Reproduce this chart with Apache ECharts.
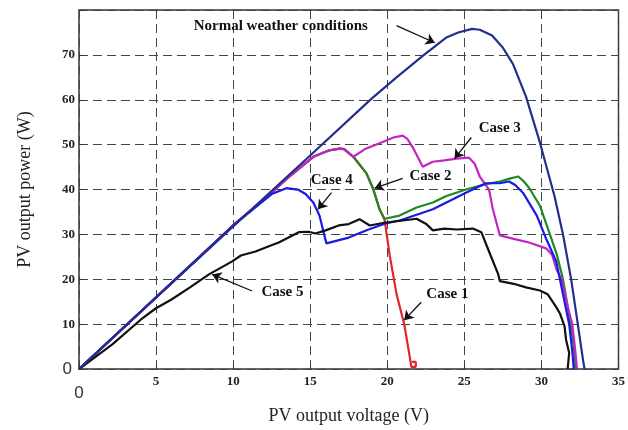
<!DOCTYPE html>
<html>
<head>
<meta charset="utf-8">
<script src="https://cdn.jsdelivr.net/npm/echarts@6/dist/echarts.min.js"></script>
<style>
  html, body { margin: 0; padding: 0; background: #fff; }
  #main { width: 628px; height: 430px; }
</style>
</head>
<body>
<div id="main"></div>
<script>
// P-V curves, [voltage (V), power (W)]
var normalCurve = [[0,0],[5,15.9],[10,31.8],[15,47.6],[19,60.3],[20.6,65],[22.3,69.8],[23.8,73.8],[24.6,75],[25.5,75.8],[26,75.6],[26.8,74.3],[27.5,71.6],[28.15,68],[29.0,60.7],[29.9,50.5],[30.85,38.5],[31.4,30],[31.93,20],[32.36,10],[32.7,2],[32.8,0]];
var case1 = [[0,0],[5,16],[10,32],[12.4,39],[13.5,42.5],[15.2,47.3],[16.2,48.7],[16.9,49.1],[17.2,49],[17.8,47.3],[18.65,43.6],[19.1,40],[19.5,35.6],[19.7,34.2],[19.83,33.2],[20.15,25.5],[20.6,16.7],[21.1,10],[21.45,2.9],[21.56,0.5],[21.85,0.5],[21.85,1.6],[21.6,1.6]];
var case2 = [[0,0],[5,16],[10,32],[12.4,39],[13.5,42.5],[15.2,47.3],[16.2,48.7],[16.9,49.1],[17.2,49],[17.8,47.3],[18.65,43.6],[19.1,40],[19.5,35.6],[19.7,34.2],[19.83,33.5],[20.8,34.2],[21.9,36],[22.96,37.1],[23.8,38.5],[25.1,40],[26.4,41.2],[27.3,41.8],[28.0,42.5],[28.5,42.9],[28.8,42],[29.2,40.4],[29.9,36.4],[30.5,30.5],[31.0,25.5],[31.4,20],[31.8,12],[32.1,5],[32.2,0]];
var case3 = [[0,0],[5,16],[10,32],[12.4,39],[13.5,42.5],[15.2,47.3],[16.2,48.7],[16.9,49.1],[17.2,49],[17.8,47.3],[18.6,49.1],[19.5,50.3],[20.4,51.6],[21.0,52],[21.3,51.3],[21.65,49.4],[22.3,45.1],[22.95,46.2],[23.7,46.5],[24.5,46.9],[25.3,47.1],[25.66,45.8],[26.0,42.9],[26.6,40],[26.85,35.6],[27.3,29.8],[28.2,29.0],[29.2,28.2],[30.3,26.9],[30.7,25.4],[31.0,22],[31.3,20],[31.7,14],[32.0,10],[32.2,4],[32.3,0]];
var case4 = [[0,0],[5,16],[10,32],[11.5,36.2],[12.5,39],[13.45,40.3],[14.2,40],[14.7,39],[15.2,37.1],[15.6,34.2],[16.05,28],[16.15,27.6],[17.5,29.3],[18.7,31],[19.83,32.4],[20.8,33.1],[22.96,35.6],[24,37.4],[25.1,39.3],[26.4,41.4],[27.3,41.4],[27.9,41.8],[28.3,41],[28.8,39.3],[29.7,34.2],[30.3,29.1],[30.96,24],[31.2,20],[31.8,10],[32.0,4],[32.1,0]];
var case5 = [[0,0],[2.16,5.5],[4,11],[4.97,13.5],[6,15.5],[7.2,18.2],[8.43,21.1],[9.94,24],[10.5,25.3],[11.45,26.2],[12.4,27.5],[12.96,28.2],[14.26,30.5],[14.9,30.6],[15.34,30.2],[16.0,30.9],[16.85,32],[17.5,32.3],[18.2,33.4],[18.86,32],[19.8,32.6],[21.0,33.1],[21.9,33.5],[22.5,32.4],[22.96,30.9],[23.7,31.3],[24.5,31.1],[25.55,31.3],[26.1,30.5],[26.6,26.2],[27.2,21.1],[27.3,19.6],[28.2,19.0],[29.0,18.2],[29.9,17.5],[30.4,16.7],[30.96,13.8],[31.2,12.4],[31.5,9.5],[31.6,6.5],[31.8,3.6],[31.7,0]];

// annotation text and arrows (data coords)
var noteNames = ['Normal weather conditions', 'Case 3', 'Case 2', 'Case 4', 'Case 5', 'Case 1'];
var notePos = [[13.09,76.3],[27.3,53.6],[22.8,42.9],[16.4,42.2],[13.2,17.1],[23.9,16.7]];
var arrowFrom = [[20.6,76.5],[25.45,51.6],[21.0,42.5],[16.38,39.3],[11.23,17.4],[22.2,14.9]];
var arrowTo = [[23.08,72.7],[24.36,46.9],[19.18,40.3],[15.5,35.6],[8.64,21.1],[21.1,10.9]];

var serif = 'Liberation Serif, Times New Roman, serif';

function curve(name, data, color, z) {
  return {
    name: name, type: 'line', data: data, showSymbol: false, z: z,
    lineStyle: { color: color, width: 2.2 }, animation: false
  };
}

var chart = echarts.init(document.getElementById('main'));
chart.setOption({
  animation: false,
  grid: { left: 79, right: 9, top: 10, bottom: 53, show: true, borderColor: '#333', borderWidth: 1.5 },
  xAxis: {
    type: 'value', min: 0, max: 35, interval: 5,
    name: 'PV output voltage (V)', nameLocation: 'middle', nameGap: 33,
    nameTextStyle: { fontFamily: serif, fontSize: 18, color: '#222' },
    axisLine: { show: false },
    axisTick: { inside: true, length: 4, lineStyle: { color: '#333' } },
    axisLabel: {
      margin: 6, fontFamily: serif, fontSize: 13, fontWeight: 'bold', color: '#222',
      formatter: function (v) { return v === 0 ? '{z|0}' : String(v); },
      rich: { z: { fontFamily: 'Liberation Sans, sans-serif', fontSize: 17, fontWeight: 'normal', color: '#333', padding: [10, 0, 0, 0] } }
    },
    splitLine: { lineStyle: { type: [9, 5], color: '#444', width: 1 } }
  },
  yAxis: {
    type: 'value', min: 0, max: 80, interval: 10,
    name: 'PV output power (W)', nameLocation: 'middle', nameGap: 45,
    nameTextStyle: { fontFamily: serif, fontSize: 18, color: '#222' },
    axisLine: { show: false },
    axisTick: { inside: true, length: 4, lineStyle: { color: '#333' } },
    axisLabel: {
      margin: 4, fontFamily: serif, fontSize: 13, fontWeight: 'bold', color: '#222',
      formatter: function (v) { return v === 80 ? '' : (v === 0 ? '{z|0}' : String(v)); },
      rich: { z: { fontFamily: 'Liberation Sans, sans-serif', fontSize: 17, fontWeight: 'normal', color: '#333', padding: [0, 3, 0, 0] } }
    },
    splitLine: { lineStyle: { type: [9, 5], color: '#444', width: 1 } }
  },
  series: [
    curve('Case 1', case1, '#e3262b', 2),
    curve('Case 2', case2, '#1f8a25', 3),
    curve('Case 3', case3, '#c424c4', 4),
    curve('Case 4', case4, '#1a1ae6', 5),
    curve('Case 5', case5, '#111111', 6),
    curve('Normal weather conditions', normalCurve, '#22308c', 7),
    {
      name: 'notes', type: 'line', data: [], z: 8, animation: false,
      markLine: {
        silent: true, symbol: ['none', 'arrow'], symbolSize: 9,
        lineStyle: { color: '#111', width: 1.3, type: 'solid' },
        label: { show: false },
        data: arrowFrom.map(function (p, i) { return [{ coord: p }, { coord: arrowTo[i] }]; })
      },
      markPoint: {
        silent: true, symbol: 'circle', symbolSize: 0,
        label: {
          show: true, position: 'inside', formatter: '{b}',
          fontFamily: serif, fontSize: 15, fontWeight: 'bold', color: '#111'
        },
        data: notePos.map(function (p, i) { return { name: noteNames[i], coord: p }; })
      }
    }
  ]
});
</script>
</body>
</html>
